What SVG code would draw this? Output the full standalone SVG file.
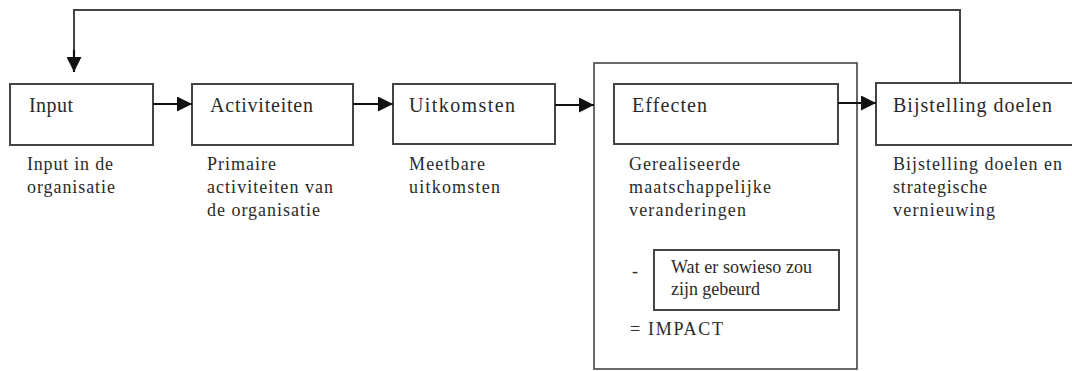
<svg xmlns="http://www.w3.org/2000/svg" width="1072" height="371" viewBox="0 0 1072 371">
<style>
.box{fill:#fff;stroke:#444;stroke-width:2}
.cont{fill:none;stroke:#444;stroke-width:1.6}
text{font-family:'Liberation Serif','Times New Roman',serif;fill:#2a2a2a}
.h{font-size:20px}
.s{font-size:18px}
.c{fill:none;stroke:#111;stroke-width:2.2}
.fb{fill:none;stroke:#444;stroke-width:2}
</style>
<defs>
<marker id="ah" markerWidth="15" markerHeight="15" refX="15" refY="7.5" orient="auto" markerUnits="userSpaceOnUse">
<path d="M0,0 L15,7.5 L0,15 Z" fill="#111"/>
</marker>
</defs>
<rect width="1072" height="371" fill="#fff"/>
<g id="effecten-container"><rect class="cont" x="594" y="63" width="263" height="306"/></g>
<g id="input">
<rect class="box" x="10" y="84" width="143" height="61"/>
<text class="h" x="29" y="112" textLength="44" lengthAdjust="spacing">Input</text>
<text class="s" x="27" y="170" textLength="86" lengthAdjust="spacing">Input in de</text>
<text class="s" x="27" y="193" textLength="88" lengthAdjust="spacing">organisatie</text>
</g>
<g id="activiteiten">
<rect class="box" x="192" y="84" width="161" height="61"/>
<text class="h" x="210" y="112" textLength="103" lengthAdjust="spacing">Activiteiten</text>
<text class="s" x="207" y="170" textLength="69" lengthAdjust="spacing">Primaire</text>
<text class="s" x="207" y="193" textLength="126" lengthAdjust="spacing">activiteiten van</text>
<text class="s" x="207" y="216" textLength="113" lengthAdjust="spacing">de organisatie</text>
</g>
<g id="uitkomsten">
<rect class="box" x="393" y="84" width="162" height="60"/>
<text class="h" x="409" y="112" textLength="106" lengthAdjust="spacing">Uitkomsten</text>
<text class="s" x="409" y="170" textLength="76" lengthAdjust="spacing">Meetbare</text>
<text class="s" x="409" y="193" textLength="91" lengthAdjust="spacing">uitkomsten</text>
</g>
<g id="effecten">
<rect class="box" x="614" y="84" width="224" height="60"/>
<text class="h" x="632" y="112" textLength="75" lengthAdjust="spacing">Effecten</text>
<text class="s" x="629" y="170" textLength="111" lengthAdjust="spacing">Gerealiseerde</text>
<text class="s" x="629" y="193" textLength="142" lengthAdjust="spacing">maatschappelijke</text>
<text class="s" x="629" y="216" textLength="117" lengthAdjust="spacing">veranderingen</text>
<text class="s" x="632" y="277">-</text>
<text class="s" x="630" y="335" textLength="93" lengthAdjust="spacing">= IMPACT</text>
</g>
<g id="sowieso">
<rect class="box" x="654" y="250" width="185" height="60"/>
<text class="s" x="671" y="273" textLength="141" lengthAdjust="spacing">Wat er sowieso zou</text>
<text class="s" x="671" y="295" textLength="89" lengthAdjust="spacing">zijn gebeurd</text>
</g>
<g id="bijstelling">
<rect class="box" x="876" y="83" width="210" height="62"/>
<text class="h" x="893" y="112" textLength="159" lengthAdjust="spacing">Bijstelling doelen</text>
<text class="s" x="893" y="170" textLength="169" lengthAdjust="spacing">Bijstelling doelen en</text>
<text class="s" x="893" y="193" textLength="94" lengthAdjust="spacing">strategische</text>
<text class="s" x="893" y="216" textLength="102" lengthAdjust="spacing">vernieuwing</text>
</g>
<g id="connectors">
<line class="c" x1="153" y1="104" x2="192" y2="104" marker-end="url(#ah)"/>
<line class="c" x1="353" y1="104" x2="393" y2="104" marker-end="url(#ah)"/>
<line class="c" x1="555" y1="105" x2="594" y2="105" marker-end="url(#ah)"/>
<line class="c" x1="838" y1="103" x2="876" y2="103" marker-end="url(#ah)"/>
<path class="fb" d="M960,83 V10 H74 V56"/>
<line class="c" x1="74" y1="50" x2="74" y2="72" marker-end="url(#ah)"/>
</g>
</svg>
